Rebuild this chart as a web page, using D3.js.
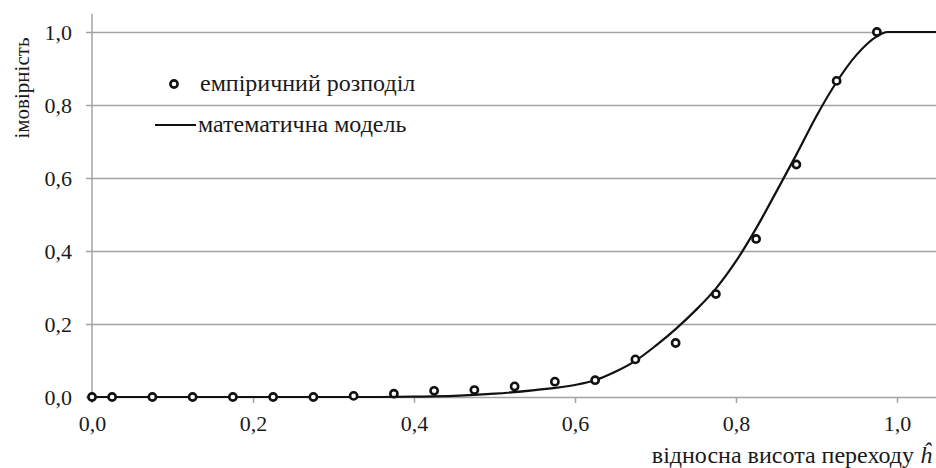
<!DOCTYPE html>
<html>
<head>
<meta charset="utf-8">
<script src="https://cdn.jsdelivr.net/npm/d3@7"></script>
<style>
    body { margin: 0; background: #fff; }
</style>
</head>
<body>
<div id="chart"></div>
<script>
// empirical distribution (points)
const empX = [0, 0.025, 0.075, 0.125, 0.175, 0.225, 0.275, 0.325, 0.375, 0.425, 0.475,
    0.525, 0.575, 0.625, 0.675, 0.725, 0.775, 0.825, 0.875, 0.925, 0.975]
const empY = [0, 0, 0, 0, 0, 0, 0, 0.003, 0.009, 0.017, 0.019,
    0.029, 0.042, 0.046, 0.103, 0.148, 0.282, 0.433, 0.637, 0.866, 1.0]

// mathematical model (line)
const modelX = [0, 0.35, 0.40, 0.45, 0.50, 0.55, 0.60, 0.625, 0.65, 0.675, 0.70, 0.725,
    0.75, 0.775, 0.80, 0.825, 0.85, 0.875, 0.90, 0.925, 0.95, 0.975, 0.988, 1.0, 1.05]
const modelY = [0, 0, 0.001, 0.003, 0.009, 0.019, 0.033, 0.046, 0.069, 0.099, 0.14, 0.186,
    0.238, 0.297, 0.372, 0.462, 0.562, 0.664, 0.77, 0.863, 0.938, 0.988, 1.0, 1.0, 1.0]

const yTicks = [0, 0.2, 0.4, 0.6, 0.8, 1.0]
const xTicks = [0, 0.2, 0.4, 0.6, 0.8, 1.0]
const legendLabels = ["емпіричний розподіл", "математична модель"]

const serif = "Liberation Serif"

const width = 936,
    height = 468
const margin = ({ top: 14, right: 0, bottom: 71, left: 92 })

const svg = d3.select("#chart").append("svg")
    .attr("width", width)
    .attr("height", height)

const x = d3.scaleLinear()
    .domain([0, 1.05])
    .range([margin.left, margin.left + 1.05 * 805])

const y = d3.scaleLinear()
    .domain([0, 1])
    .range([397, 32])

const fmt = d => d3.format(".1f")(d).replace(".", ",")

// horizontal grid
svg.append("g")
    .attr("transform", `translate(${margin.left},0)`)
    .call(d3.axisLeft(y).tickValues(yTicks).tickSize(-(width - margin.left)).tickFormat(""))
    .call(g => g.select(".domain").remove())
    .call(g => g.selectAll(".tick line").attr("stroke", "#a3a3a3").attr("stroke-width", 1.5))

// y axis
svg.append("g")
    .attr("transform", `translate(${margin.left},0)`)
    .call(d3.axisLeft(y).tickValues(yTicks).tickSize(6).tickPadding(14).tickFormat(fmt))
    .attr("font-family", serif)
    .call(g => g.select(".domain").remove())
    .call(g => g.selectAll(".tick line").attr("stroke", "#a3a3a3").attr("stroke-width", 1.5))
    .call(g => g.selectAll(".tick text").attr("font-size", 22).attr("font-family", serif).attr("fill", "#1a1a1a"))

svg.append("line")
    .attr("x1", margin.left).attr("x2", margin.left)
    .attr("y1", y(1.05)).attr("y2", y(0) + 6)
    .attr("stroke", "#a3a3a3")
    .attr("stroke-width", 1.5)

// x axis
svg.append("g")
    .attr("transform", `translate(0,${y(0)})`)
    .call(d3.axisBottom(x).tickValues(xTicks).tickSize(6).tickPadding(12).tickFormat(fmt))
    .attr("font-family", serif)
    .call(g => g.select(".domain").remove())
    .call(g => g.selectAll(".tick line").attr("stroke", "#a3a3a3").attr("stroke-width", 1.5))
    .call(g => g.selectAll(".tick text").attr("font-size", 22).attr("font-family", serif).attr("fill", "#1a1a1a"))

// axis titles
svg.append("text")
    .attr("transform", `translate(29,88) rotate(-90)`)
    .attr("text-anchor", "middle")
    .attr("font-family", serif)
    .attr("font-size", 21)
    .attr("fill", "#1a1a1a")
    .text("імовірність")

const xTitle = svg.append("text")
    .attr("x", 932)
    .attr("y", 463)
    .attr("text-anchor", "end")
    .attr("font-family", serif)
    .attr("font-size", 24)
    .attr("fill", "#1a1a1a")
xTitle.append("tspan").text("відносна висота переходу ")
xTitle.append("tspan").attr("font-style", "italic").text("ĥ")

// model line
const model = modelX.map((d, i) => ({ h: d, p: modelY[i] }))
svg.append("path")
    .datum(model)
    .attr("fill", "none")
    .attr("stroke", "#111")
    .attr("stroke-width", 2.2)
    .attr("d", d3.line().x(d => x(d.h)).y(d => y(d.p)).curve(d3.curveMonotoneX))

// empirical points
const emp = empX.map((d, i) => ({ h: d, p: empY[i] }))
svg.append("g")
    .selectAll("circle")
    .data(emp)
    .join("circle")
    .attr("cx", d => x(d.h))
    .attr("cy", d => y(d.p))
    .attr("r", 3.6)
    .attr("fill", "#fff")
    .attr("stroke", "#111")
    .attr("stroke-width", 2.6)

// legend
const legend = svg.append("g")
    .attr("font-family", serif)
    .attr("font-size", 24)
    .attr("fill", "#1a1a1a")
legend.append("circle")
    .attr("cx", 174).attr("cy", 84).attr("r", 3.6)
    .attr("fill", "#fff").attr("stroke", "#111").attr("stroke-width", 2.6)
legend.append("text")
    .attr("x", 200).attr("y", 91)
    .text(legendLabels[0])
legend.append("line")
    .attr("x1", 155).attr("x2", 196)
    .attr("y1", 125).attr("y2", 125)
    .attr("stroke", "#111").attr("stroke-width", 2.2)
legend.append("text")
    .attr("x", 198).attr("y", 132)
    .text(legendLabels[1])
</script>
</body>
</html>
